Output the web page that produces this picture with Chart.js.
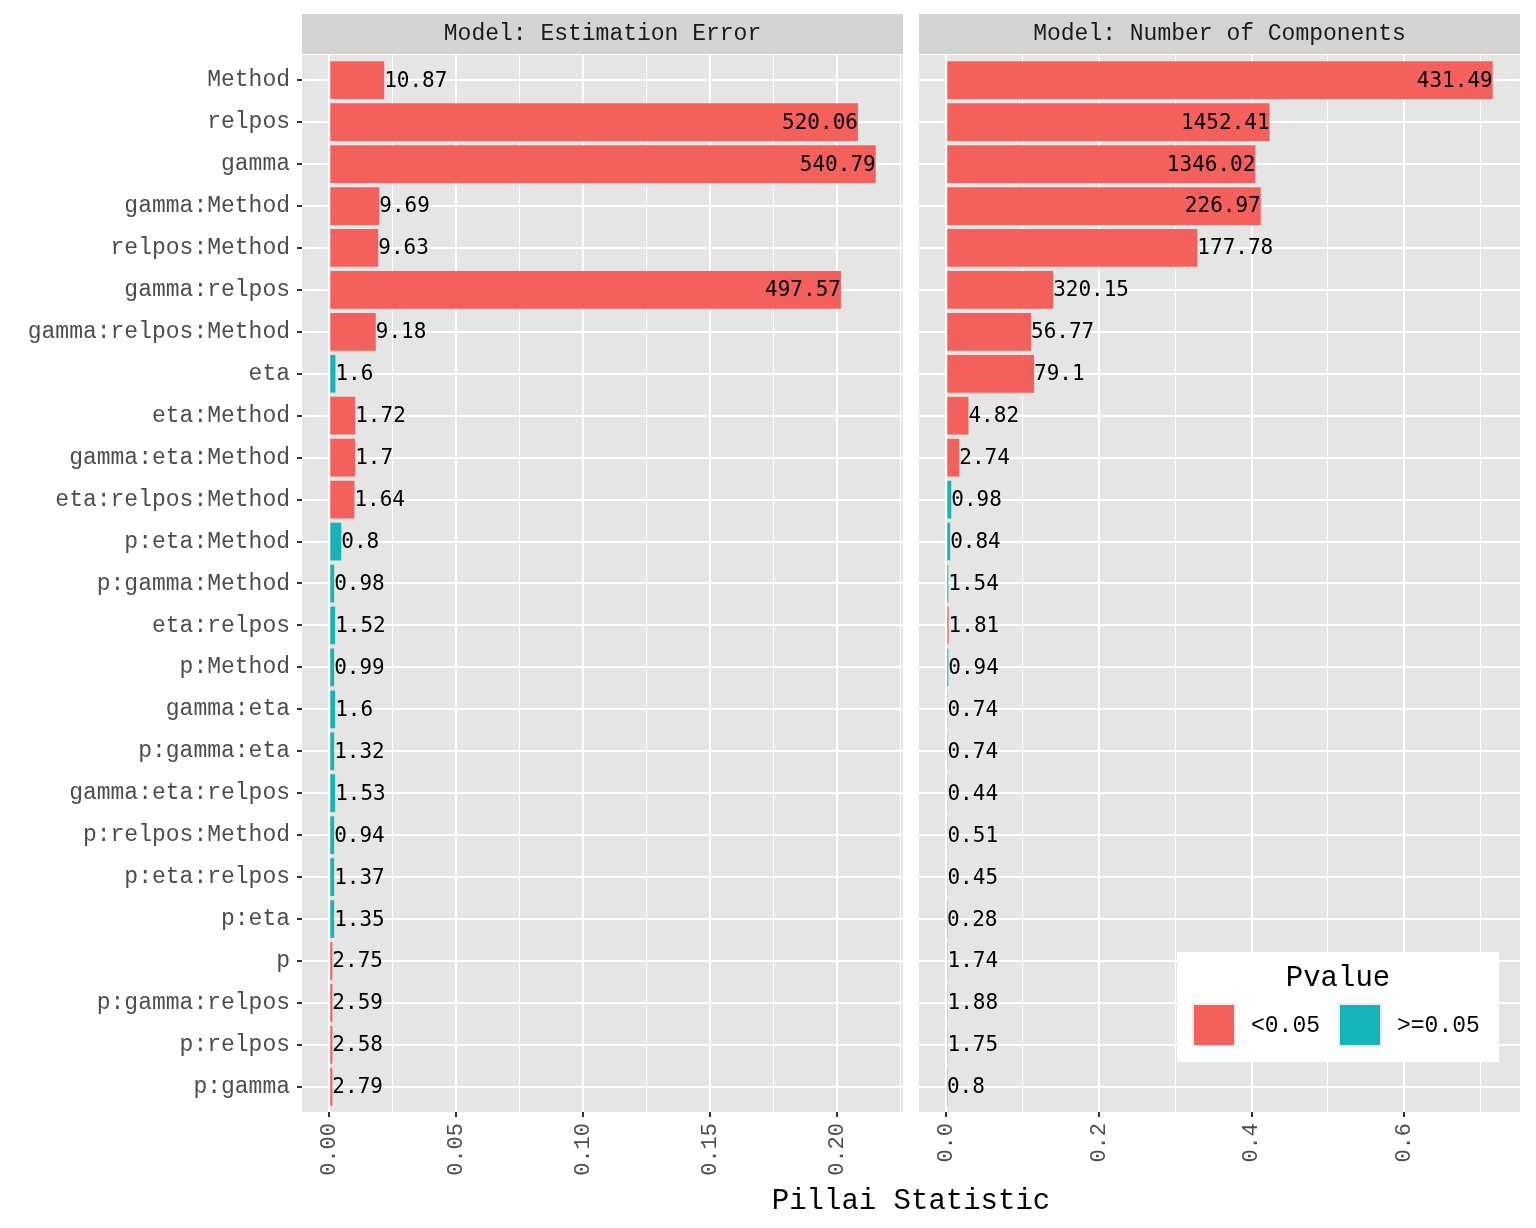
<!DOCTYPE html>
<html>
<head>
<meta charset="utf-8">
<script src="https://cdn.jsdelivr.net/npm/chart.js@4.4.1/dist/chart.umd.min.js"></script>
<style>
  html, body { margin: 0; padding: 0; background: #ffffff; }
  body { width: 1536px; height: 1228px; position: relative; overflow: hidden; }
  canvas { position: absolute; top: 0; }
  #c1 { left: 0; }
  #c2 { left: 905px; }
  #xtitle { position: absolute; left: 302px; width: 1218px; top: 1185px; text-align: center;
            font-family: "Liberation Mono", monospace; font-size: 29px; color: #000; }
</style>
</head>
<body>
<canvas id="c1" width="905" height="1228"></canvas>
<canvas id="c2" width="631" height="1228"></canvas>
<div id="xtitle">Pillai Statistic</div>
<script>
// ---------------- data ----------------
const categories = ["Method","relpos","gamma","gamma:Method","relpos:Method","gamma:relpos",
  "gamma:relpos:Method","eta","eta:Method","gamma:eta:Method","eta:relpos:Method","p:eta:Method",
  "p:gamma:Method","eta:relpos","p:Method","gamma:eta","p:gamma:eta","gamma:eta:relpos",
  "p:relpos:Method","p:eta:relpos","p:eta","p","p:gamma:relpos","p:relpos","p:gamma"];

const panelTitles = ["Model: Estimation Error", "Model: Number of Components"];

// Pillai statistic (bar length), estimation error model
const pillaiError = [0.0216,0.2083,0.2153,0.0197,0.0193,0.2016,0.0183,0.0024,0.0102,0.0102,0.0099,0.0047,
  0.0019,0.0023,0.0019,0.0023,0.0019,0.0023,0.0019,0.0019,0.0019,0.0012,0.0012,0.0012,0.0012];
// F statistic labels, estimation error model
const fError = ["10.87","520.06","540.79","9.69","9.63","497.57","9.18","1.6","1.72","1.7","1.64","0.8",
  "0.98","1.52","0.99","1.6","1.32","1.53","0.94","1.37","1.35","2.75","2.59","2.58","2.79"];
// p-value group, estimation error model
const pError = ["<0.05","<0.05","<0.05","<0.05","<0.05","<0.05","<0.05",">=0.05","<0.05","<0.05","<0.05",">=0.05",
  ">=0.05",">=0.05",">=0.05",">=0.05",">=0.05",">=0.05",">=0.05",">=0.05",">=0.05","<0.05","<0.05","<0.05","<0.05"];

// Pillai statistic, number of components model
const pillaiComp = [0.716,0.4236,0.405,0.412,0.329,0.140,0.111,0.115,0.029,0.017,0.0065,0.005,
  0.0026,0.003,0.0026,0.0016,0.0016,0.0015,0.0015,0.0015,0.0008,0.0016,0.0016,0.0016,0.0008];
const fComp = ["431.49","1452.41","1346.02","226.97","177.78","320.15","56.77","79.1","4.82","2.74","0.98","0.84",
  "1.54","1.81","0.94","0.74","0.74","0.44","0.51","0.45","0.28","1.74","1.88","1.75","0.8"];
const pComp = ["<0.05","<0.05","<0.05","<0.05","<0.05","<0.05","<0.05","<0.05","<0.05","<0.05",">=0.05",">=0.05",
  ">=0.05","<0.05",">=0.05",">=0.05",">=0.05",">=0.05",">=0.05",">=0.05",">=0.05",">=0.05",">=0.05",">=0.05",">=0.05"];

// axis ticks
const errTickValues = [0, 0.05, 0.10, 0.15, 0.20];
const errTickLabels = ["0.00", "0.05", "0.10", "0.15", "0.20"];
const errMinorTicks = [0.025, 0.075, 0.125, 0.175, 0.225];
const compTickValues = [0, 0.2, 0.4, 0.6];
const compTickLabels = ["0.0", "0.2", "0.4", "0.6"];
const compMinorTicks = [0.1, 0.3, 0.5, 0.7];

const legendLabels = ["<0.05", ">=0.05"];
const legendTitle = "Pvalue";

// ---------------- style ----------------
const COLORS = { "<0.05": "#F4605B", ">=0.05": "#16B4B8" };
const SERIF_MONO = '"Liberation Mono", "Courier New", monospace';
const SANS_MONO = '"DejaVu Sans Mono", monospace';
const PANEL_BG = "#E5E5E5";
const STRIP_BG = "#D3D3D3";

function isMajor(v, majors) { return majors.some(m => Math.abs(m - v) < 1e-9); }

const panelPlugin = {
  id: "panelDeco",
  beforeDraw(chart, args, opts) {
    const { ctx, chartArea: a } = chart;
    ctx.save();
    ctx.fillStyle = PANEL_BG;
    ctx.fillRect(a.left, a.top, a.right - a.left, a.bottom - a.top);
    ctx.fillStyle = STRIP_BG;
    ctx.fillRect(a.left, 14, a.right - a.left, 40);
    ctx.fillStyle = "#1A1A1A";
    ctx.font = "23px " + SERIF_MONO;
    ctx.textAlign = "center";
    ctx.textBaseline = "middle";
    ctx.fillText(opts.title, (a.left + a.right) / 2, 34);
    ctx.restore();
  },
  afterDatasetsDraw(chart, args, opts) {
    const { ctx, chartArea: a } = chart;
    const meta = chart.getDatasetMeta(0);
    const mid = (a.left + a.right) / 2;
    ctx.save();
    ctx.font = "21px " + SANS_MONO;
    ctx.fillStyle = "#000";
    ctx.textBaseline = "middle";
    meta.data.forEach((el, i) => {
      const x = el.x;
      if (x < mid) { ctx.textAlign = "left"; } else { ctx.textAlign = "right"; }
      ctx.fillText(opts.labels[i], x, el.y + 1);
    });
    ctx.restore();
  },
  afterDraw(chart, args, opts) {
    if (!opts.legend) return;
    const { ctx, chartArea: a } = chart;
    const L = a.right - 343, T = a.bottom - 160;  // legend box origin
    ctx.save();
    ctx.fillStyle = "#FFFFFF";
    ctx.fillRect(L, T, 322, 110);
    ctx.fillStyle = "#000";
    ctx.font = "29px " + SERIF_MONO;
    ctx.textAlign = "center";
    ctx.textBaseline = "middle";
    ctx.fillText(legendTitle, L + 161, T + 26);
    const keys = [L + 15, L + 161];
    legendLabels.forEach((lab, i) => {
      const kx = keys[i], ky = T + 51;
      ctx.fillStyle = "#EDEDED";
      ctx.fillRect(kx, ky, 44, 44);
      ctx.fillStyle = COLORS[lab];
      ctx.fillRect(kx + 2, ky + 2, 40, 40);
      ctx.fillStyle = "#000";
      ctx.font = "23px " + SERIF_MONO;
      ctx.textAlign = "left";
      ctx.fillText(lab, kx + 59, ky + 23);
    });
    ctx.restore();
  }
};

function makeChart(canvasId, values, labels, groups, tickValues, tickLabels, minorTicks, title, showY, padRight, yWidth, legend) {
  const maxV = Math.max(...values);
  const data = values.map((v, i) => ({ x: v, y: i }));
  return new Chart(document.getElementById(canvasId), {
    type: "bar",
    data: {
      datasets: [{
        data: data,
        backgroundColor: groups.map(g => COLORS[g]),
        borderWidth: 0,
        barPercentage: 0.9,
        categoryPercentage: 1.0
      }]
    },
    plugins: [panelPlugin],
    options: {
      indexAxis: "y",
      responsive: false,
      animation: false,
      layout: { padding: { top: 55, right: padRight, bottom: 36, left: 0 } },
      plugins: {
        legend: { display: false },
        tooltip: { enabled: false },
        panelDeco: { title: title, labels: labels, legend: legend }
      },
      scales: {
        x: {
          type: "linear",
          min: -0.05 * maxV,
          max: 1.05 * maxV,
          bounds: "data",
          offset: false,
          afterBuildTicks(scale) {
            scale.ticks = tickValues.concat(minorTicks).sort((a, b) => a - b).map(v => ({ value: v }));
          },
          afterFit(scale) {
            scale.height = 80;
            scale.paddingLeft = 0;
            scale.paddingRight = 0;
          },
          border: { display: false },
          grid: {
            offset: false,
            color: "#FFFFFF",
            lineWidth: (c) => (c.tick && isMajor(c.tick.value, tickValues)) ? 2 : 1,
            tickColor: (c) => (c.tick && isMajor(c.tick.value, tickValues)) ? "#333333" : "rgba(0,0,0,0)",
            tickWidth: 2,
            tickLength: 5,
            drawTicks: true
          },
          ticks: {
            autoSkip: false,
            minRotation: 90,
            maxRotation: 90,
            padding: 6,
            color: "#4D4D4D",
            font: { family: SERIF_MONO, size: 22 },
            callback: (v) => {
              const k = tickValues.findIndex(m => Math.abs(m - v) < 1e-9);
              return k >= 0 ? tickLabels[k] : "";
            }
          }
        },
        y: {
          type: "linear",
          reverse: true,
          min: -0.6,
          max: categories.length - 0.4,
          bounds: "data",
          offset: false,
          afterBuildTicks(scale) {
            scale.ticks = categories.map((c, i) => ({ value: i }));
          },
          afterFit(scale) {
            scale.width = yWidth;
            scale.paddingTop = 0;
            scale.paddingBottom = 0;
          },
          border: { display: false },
          grid: {
            offset: false,
            color: "#FFFFFF",
            lineWidth: 2,
            tickColor: "#333333",
            tickWidth: 2,
            tickLength: 5,
            drawTicks: showY
          },
          ticks: {
            display: showY,
            autoSkip: false,
            padding: 7,
            color: "#4D4D4D",
            font: { family: SERIF_MONO, size: 23 },
            callback: (v) => categories[v] !== undefined ? categories[v] : ""
          }
        }
      }
    }
  });
}

makeChart("c1", pillaiError, fError, pError, errTickValues, errTickLabels, errMinorTicks, panelTitles[0], true, 2, 302, false);
makeChart("c2", pillaiComp, fComp, pComp, compTickValues, compTickLabels, compMinorTicks, panelTitles[1], false, 16, 14, true);
</script>
</body>
</html>
